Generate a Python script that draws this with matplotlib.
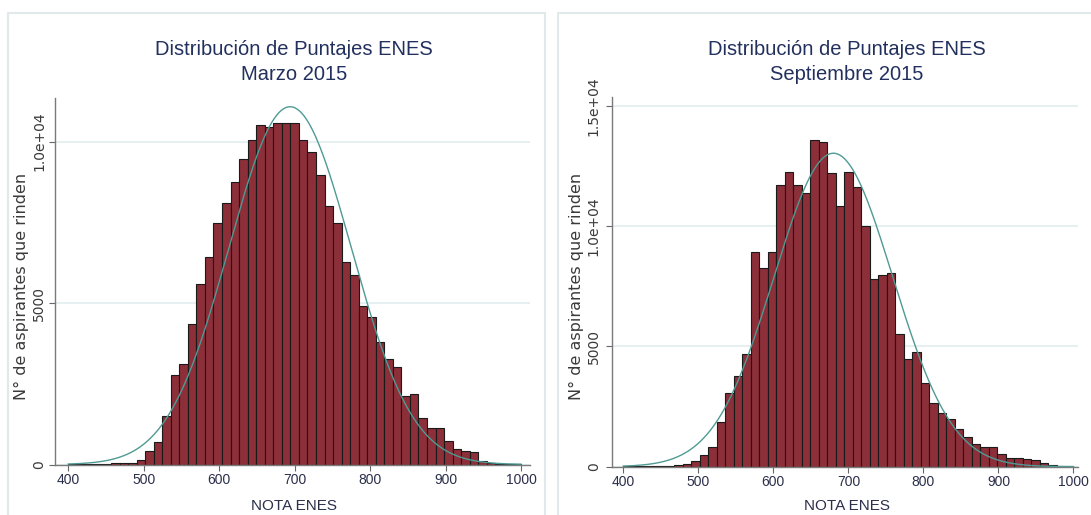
import numpy as np
import matplotlib
matplotlib.use("Agg")
import matplotlib.pyplot as plt
from matplotlib.patches import Rectangle

# histogram bins (Stata default: 53 bins over the 400-1000 score range)
N_BINS = 53
X_MIN, X_MAX = 400, 1000

marzo_counts = [5, 8, 20, 25, 30, 35, 40, 60,
                130, 424, 702, 1498, 2758, 3099, 4360, 5579, 6436, 7469,
                8099, 8760, 9463, 10052, 10500, 10450, 10570, 10570, 10570, 10050,
                9690, 8970, 8008, 7469, 6260, 5855, 4918, 4576, 3791, 3254,
                3006, 2118, 2169, 1426, 1136, 1136, 720, 470, 420, 390,
                120, 60, 25, 15, 20]

sept_counts = [10, 10, 15, 20, 25, 30, 60, 130,
               250, 470, 820, 1872, 3051, 3760, 4700, 8918, 8280, 8918,
               11705, 12247, 11705, 11401, 13592, 13523, 12205, 10860, 12247, 11650,
               10014, 7795, 7975, 8072, 5540, 4500, 4770, 3467, 2635, 2219,
               1969, 1553, 1230, 929, 810, 810, 530, 380, 370, 340,
               277, 150, 50, 30, 20]

# normal overlay (mean, sd, peak height)
marzo_normal = (694, 81, 11080)
sept_normal = (680, 79, 13040)

titles = ["Distribución de Puntajes ENES\nMarzo 2015",
          "Distribución de Puntajes ENES\nSeptiembre 2015"]
ylabel = "N° de aspirantes que rinden"
xlabel = "NOTA ENES"
xticks = [400, 500, 600, 700, 800, 900, 1000]
yticks_marzo = [0, 5000, 10000]
yticks_sept = [0, 5000, 10000, 15000]
ylabels_marzo = ["0", "5000", "1.0e+04"]
ylabels_sept = ["0", "5000", "1.0e+04", "1.5e+04"]

SANS = ["Liberation Sans", "DejaVu Sans"]
BAR = "#8c2f39"
CURVE = "#4f9a94"
NAVY = "#22305e"
GRID = "#e3edef"

W, H = 1091, 515
fig = plt.figure(figsize=(W / 100, H / 100), dpi=100)


def fx(px):
    return px / W


def fy(py):
    return 1 - py / H


# faint graph-region frames
for x0, x1 in [(8, 545), (558, 1100)]:
    fig.patches.append(Rectangle((fx(x0), -0.01), fx(x1 - x0), fy(13) + 0.01,
                                 transform=fig.transFigure, fill=False,
                                 edgecolor="#e2e9eb", lw=1.5))

panels = [
    dict(counts=marzo_counts, normal=marzo_normal, title=titles[0],
         box=(55.3, 530, 98, 464.5), xlim=(382.8, 1012), ylim=(0, 11350),
         yt=yticks_marzo, ytl=ylabels_marzo, tcx=294, ylx=21, ypad=2.5),
    dict(counts=sept_counts, normal=sept_normal, title=titles[1],
         box=(612, 1078, 96.7, 466.7), xlim=(385, 1006), ylim=(0, 15391),
         yt=yticks_sept, ytl=ylabels_sept, tcx=847, ylx=576, ypad=4),
]

edges = np.linspace(X_MIN, X_MAX, N_BINS + 1)
width = edges[1] - edges[0]

for p in panels:
    l, r, t, b = p["box"]
    ax = fig.add_axes([fx(l), fy(b), fx(r - l), fy(t) - fy(b)])
    ax.bar(edges[:-1], p["counts"], width=width, align="edge",
           color=BAR, edgecolor="#1a1a1a", linewidth=0.8, zorder=2)
    mu, sd, peak = p["normal"]
    xs = np.linspace(X_MIN, X_MAX, 400)
    ax.plot(xs, peak * np.exp(-0.5 * ((xs - mu) / sd) ** 2),
            color=CURVE, lw=1.0, zorder=3)

    ax.set_xlim(*p["xlim"])
    ax.set_ylim(*p["ylim"])
    ax.set_xticks(xticks)
    ax.set_xticklabels([str(v) for v in xticks], fontfamily=SANS,
                       fontsize=10, color="#2b2f4a")
    ax.set_yticks(p["yt"])
    ax.set_yticklabels(p["ytl"], rotation=90, va="center",
                       fontfamily="DejaVu Sans", fontsize=10, color="#3a3a3a")
    ax.tick_params(axis="both", direction="out", length=4, width=0.8,
                   color="#666666")
    ax.tick_params(axis="y", pad=p["ypad"])
    ax.tick_params(axis="x", pad=2)
    for s in ["top", "right"]:
        ax.spines[s].set_visible(False)
    for s in ["left", "bottom"]:
        ax.spines[s].set_color("#7a7a7a")
        ax.spines[s].set_linewidth(1.0)
    ax.set_axisbelow(True)
    ax.yaxis.grid(True, color=GRID, lw=1.2)
    ax.set_facecolor("white")

    fig.text(fx(p["tcx"]), fy(62), p["title"], ha="center", va="center",
             fontfamily=SANS, fontsize=14.5, color=NAVY, linespacing=1.35)
    fig.text(fx(p["tcx"]), fy(506), xlabel, ha="center", va="center",
             fontfamily=SANS, fontsize=11, color="#2b2f4a")
    fig.text(fx(p["ylx"]), fy(286), ylabel, ha="center", va="center",
             rotation=90, fontfamily="DejaVu Sans", fontsize=11.5,
             color="#3a3a3a")

fig.savefig("out.png", dpi=100)
